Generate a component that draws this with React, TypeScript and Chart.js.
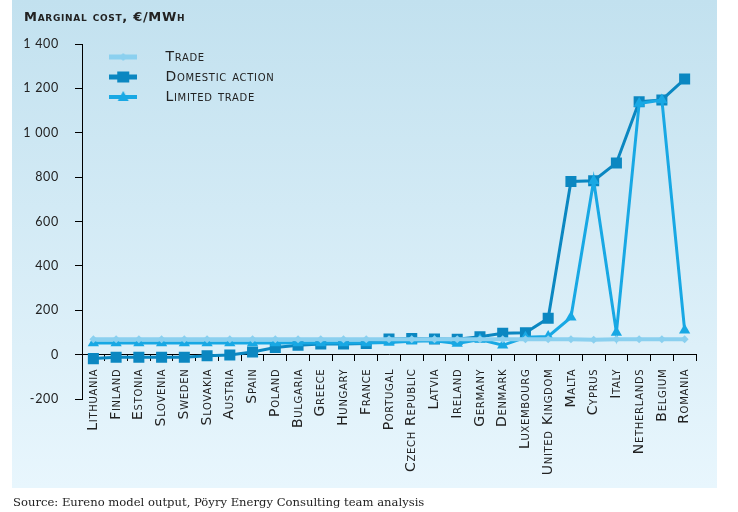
import React, { useEffect, useRef } from "react";
import { Chart, registerables } from "chart.js";
Chart.register(...registerables);

const countries = ["Lithuania","Finland","Estonia","Slovenia","Sweden","Slovakia","Austria","Spain","Poland","Bulgaria","Greece","Hungary","France","Portugal","Czech Republic","Latvia","Ireland","Germany","Denmark","Luxembourg","United Kingdom","Malta","Cyprus","Italy","Netherlands","Belgium","Romania"];
const trade = [69,69,69,69,69,69,69,69,69,69,69,69,69,69,69,69,69,69,69,69,69,69,67,69,69,69,69];
const domestic = [-18,-12,-12,-12,-12,-5,-2,12,32,42,48,48,50,70,73,70,69,81,96,99,164,780,784,864,1140,1148,1242];
const limited = [52,52,52,52,52,52,52,52,52,52,52,52,52,55,60,62,50,68,42,78,82,168,784,100,1132,1148,110];
const yTicks = { min: -200, max: 1400, step: 200 };
const title = "Marginal cost, €/MWh";
const source = "Source: Eureno model output, Pöyry Energy Consulting team analysis";

const C_TRADE = "#8bd0ef";
const C_DOM = "#0b87c1";
const C_LIM = "#18a8e4";
const FONT = "DejaVu Sans";

function fmt(v: number) {
  const s = String(Math.abs(v)).replace(/\B(?=(\d{3})+(?!\d))/g, " ");
  return v < 0 ? "-" + s : s;
}

function makeIcon(color: string, lw: number, style: string) {
  const c = document.createElement("canvas");
  c.width = 28; c.height = 14;
  const ctx = c.getContext("2d")!;
  ctx.strokeStyle = color; ctx.lineWidth = lw; ctx.fillStyle = color;
  ctx.beginPath(); ctx.moveTo(0, 7); ctx.lineTo(28, 7); ctx.stroke();
  ctx.beginPath();
  if (style === "rect") {
    ctx.rect(14 - 6, 7 - 5.5, 12, 11);
  } else if (style === "tri") {
    ctx.moveTo(14, 1); ctx.lineTo(19.5, 11); ctx.lineTo(8.5, 11); ctx.closePath();
  } else {
    ctx.moveTo(14, 3); ctx.lineTo(18, 7); ctx.lineTo(14, 11); ctx.lineTo(10, 7); ctx.closePath();
  }
  ctx.fill();
  return c;
}

const SPACING = "0.7px";

const panelPlugin = {
  id: "panel",
  beforeLayout(chart: any) {
    (chart.ctx as any).letterSpacing = SPACING;
  },
  beforeDraw(chart: any) {
    const { ctx } = chart;
    const g = ctx.createLinearGradient(0, 0, 0, 488);
    g.addColorStop(0, "#c2e1ef");
    g.addColorStop(1, "#e8f6fd");
    ctx.save();
    ctx.fillStyle = g;
    ctx.fillRect(12, 0, 705, 488);
    ctx.restore();
    (ctx as any).letterSpacing = SPACING;
  },
  afterLayout(chart: any) {
    const lg = chart.legend;
    if (!lg) return;
    const ca = chart.chartArea;
    lg.left = ca.left; lg.top = ca.top;
    lg.right = ca.left + lg.width; lg.bottom = ca.top + lg.height;
  },
};

export default function App() {
  const ref = useRef<HTMLCanvasElement>(null);
  useEffect(() => {
    const icons = [
      makeIcon(C_TRADE, 5, "dia"),
      makeIcon(C_DOM, 5, "rect"),
      makeIcon(C_LIM, 4, "tri"),
    ];
    const names = ["Trade", "Domestic action", "Limited trade"];
    const chart = new Chart(ref.current!, {
      type: "line",
      data: {
        labels: countries,
        datasets: [
          { label: names[0], data: trade, borderColor: C_TRADE, backgroundColor: C_TRADE, borderWidth: 4, pointStyle: "rectRot", pointRadius: 4, pointBorderWidth: 0, order: 0 },
          { label: names[1], data: domestic, borderColor: C_DOM, backgroundColor: C_DOM, borderWidth: 3, pointStyle: "rect", pointRadius: 7.8, pointBorderWidth: 0, order: 2 },
          { label: names[2], data: limited, borderColor: C_LIM, backgroundColor: C_LIM, borderWidth: 3, pointStyle: "triangle", pointRadius: 6.5, pointBorderWidth: 0, order: 1 },
        ],
      },
      options: {
        animation: false,
        responsive: false,
        layout: { padding: { left: 24, right: 42, top: 0, bottom: 113 } },
        plugins: {
          title: {
            display: true, text: title, align: "start", color: "#222",
            font: { family: FONT, size: 13, weight: "small-caps bold" as any },
            padding: { top: 9.5, bottom: 18.9 },
          },
          legend: {
            position: "chartArea" as any,
            align: "start",
            labels: {
              usePointStyle: true,
              pointStyleWidth: 70.4,
              padding: 6,
              color: "#222",
              font: { family: FONT, size: 14, weight: "small-caps" as any },
              generateLabels: () => names.map((n, i) => ({
                text: n, pointStyle: icons[i] as any, fillStyle: "transparent", strokeStyle: "transparent",
                lineWidth: 0, hidden: false, datasetIndex: i, fontColor: "#222",
              })),
            },
          },
          tooltip: { enabled: false },
        },
        scales: {
          x: {
            type: "category",
            position: { y: 0 } as any,
            offset: true,
            grid: { offset: true, drawOnChartArea: false, drawTicks: true, tickLength: 6, color: "#000" },
            border: { color: "#000", width: 1 },
            ticks: {
              minRotation: 90, maxRotation: 90, autoSkip: false, padding: 8, color: "#222",
              font: { family: FONT, size: 14, weight: "small-caps" as any },
            },
          },
          y: {
            min: yTicks.min, max: yTicks.max,
            ticks: { stepSize: yTicks.step, padding: 16, color: "#222", font: { family: "Lato", size: 12.5 }, callback: (v: any) => fmt(Number(v)) },
            grid: { drawOnChartArea: false, tickLength: 7, color: "#000" },
            border: { color: "#000", width: 1 },
            afterFit: (s: any) => { s.width = 58; },
          },
        },
      },
      plugins: [panelPlugin],
    });
    return () => chart.destroy();
  }, []);
  return (
    <div style={{ position: "absolute", left: 0, top: 0, width: 738, height: 512 }}>
      <canvas ref={ref} width={738} height={512} style={{ display: "block" }} />
      <div style={{ position: "absolute", left: 13, top: 495, fontFamily: "DejaVu Serif", fontSize: 11.6, color: "#222", whiteSpace: "nowrap" }}>{source}</div>
    </div>
  );
}
